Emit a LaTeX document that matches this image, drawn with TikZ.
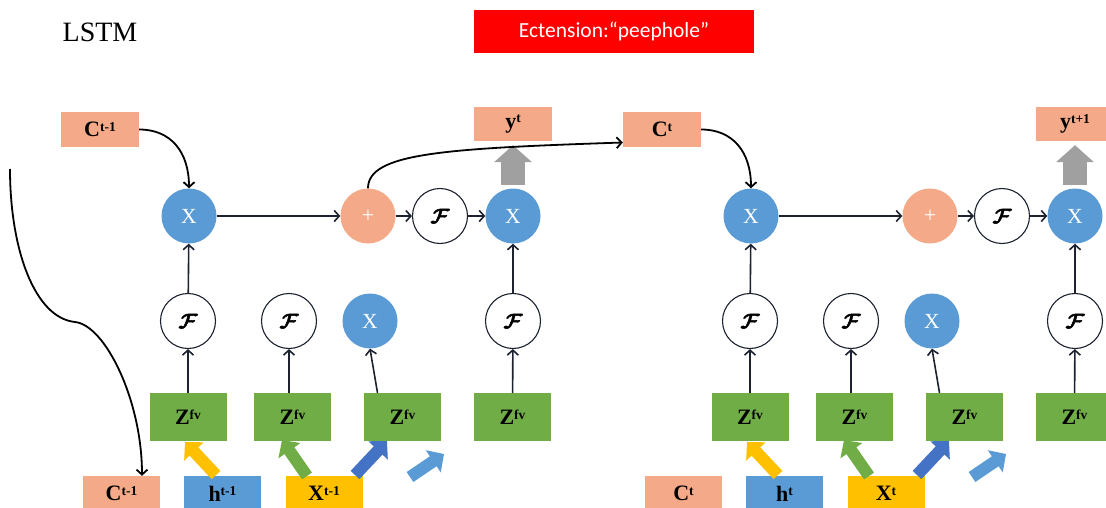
\documentclass[tikz,border=0pt]{standalone}
\usepackage{amsmath}
\usepackage{bm}
\usepackage{fontspec}
\setmainfont{Liberation Serif}
\newfontfamily\calib{Carlito}
\usetikzlibrary{arrows.meta}

\definecolor{salmon}{HTML}{F4AA88}
\definecolor{gateblue}{HTML}{5B9BD5}
\definecolor{zgreen}{HTML}{70AD47}
\definecolor{amber}{HTML}{FFC000}
\definecolor{deepblue}{HTML}{4472C4}
\definecolor{ashgray}{HTML}{A0A0A0}
\definecolor{wirecol}{HTML}{1C2230}

% raised superscript, top aligned with the capital
\newcommand\sups[1]{\raisebox{5.5pt}{\fontsize{13.5}{13.5}\selectfont #1}}
% heavy calligraphic F: bold glyph with a thin outline stroke
\newcommand\funcF{\special{pdf:literal direct 2 Tr 0.5 w}$\bm{\mathcal{F}}$\special{pdf:literal direct 0 Tr}}

\tikzset{
  lab/.style={inner sep=0pt, font=\bfseries\fontsize{22}{22}\selectfont},
  cbox/.style={lab, fill=salmon, minimum width=78pt, minimum height=35pt},
  hbox/.style={lab, fill=gateblue, minimum width=77pt, minimum height=35pt},
  xbox/.style={lab, fill=amber, minimum width=77pt, minimum height=35pt},
  zbox/.style={lab, fill=zgreen, minimum width=77pt, minimum height=48pt},
  mult/.style={circle, fill=gateblue, minimum size=55pt, inner sep=0pt,
               text=white, font=\fontsize{21.5}{22}\selectfont},
  addc/.style={circle, fill=salmon, minimum size=55pt, inner sep=0pt,
               text=white, font=\fontsize{22}{22}\selectfont},
  func/.style={circle, draw=wirecol, line width=1.1pt, fill=white,
               minimum size=55pt, inner sep=0pt, font=\fontsize{22}{22}\selectfont},
  wire/.style={draw=wirecol, line width=1.6pt,
               -{Straight Barb[length=5pt,width=11pt]}},
  curvewire/.style={wire, draw=black, line width=1.8pt},
  fat/.style={line width=12pt, -{Triangle[length=13pt,width=26pt]}},
  grayup/.style={draw=ashgray, line width=24pt,
                 -{Triangle[length=17pt,width=37pt]}, shorten <=3pt, shorten >=4pt},
}

% one unrolled LSTM cell: prefix, x offset, time index, output index
\newcommand\lstmcell[4]{%
\begin{scope}[xshift=#2pt]
  \node[cbox] (#1ctop) at (100,129.5) {C\sups{#3}};
  \node[cbox, minimum height=34pt] (#1y) at (513,124) {y\sups{#4}};
  \node[mult] (#1xc) at (189,216) {X};
  \node[addc] (#1plus) at (368,216) {+};
  \node[func] (#1ft) at (440,216) {\funcF};
  \node[mult] (#1xo) at (513,216) {X};
  \node[func] (#1fa) at (188,321) {\funcF};
  \node[func] (#1fb) at (289,321) {\funcF};
  \node[mult] (#1xi) at (370,321) {X};
  \node[func] (#1fc) at (513,321) {\funcF};
  \node[zbox] (#1za) at (188,417) {Z\sups{fv}};
  \node[zbox] (#1zb) at (292.5,417) {Z\sups{fv}};
  \node[zbox] (#1zc) at (402.5,417) {Z\sups{fv}};
  \node[zbox] (#1zd) at (512.5,417) {Z\sups{fv}};
  \node[cbox, minimum width=77pt] (#1cb) at (121.5,493.5) {C\sups{#3}};
  \node[hbox] (#1h) at (222.5,493.5) {h\sups{#3}};
  \node[xbox] (#1x) at (324,493.5) {X\sups{#3}};
  % cell state path
  \draw[curvewire] (#1ctop.east) .. controls +(32,0) and +(0,-36) .. (#1xc.north);
  \draw[wire] (#1xc) -- (#1plus);
  \draw[wire] (#1plus) -- (#1ft);
  \draw[wire] (#1ft) -- (#1xo);
  % gates
  \draw[wire] (#1fa) -- (#1xc);
  \draw[wire] (#1fc) -- (#1xo);
  \draw[wire] (#1za) -- (#1fa);
  \draw[wire] (#1fb.south |- #1zb.north) -- (#1fb.south);
  \draw[wire] ([xshift=-25pt]#1zc.north) -- (#1xi.south);
  \draw[wire] (#1zd) -- (#1fc);
  % output
  \draw[grayup] (#1xo.north) -- (#1y.south);
  % inputs feeding the gates
  \coordinate (#1ya) at (216,475);  \coordinate (#1yb) at (185,442);
  \coordinate (#1ga) at (307,476);  \coordinate (#1gb) at (282,440);
  \coordinate (#1ba) at (355,475);  \coordinate (#1bb) at (387,441);
  \coordinate (#1la) at (410,477);  \coordinate (#1lb) at (444,454);
  \draw[fat, amber] (#1ya) -- (#1yb);
  \draw[fat, zgreen] (#1ga) -- (#1gb);
  \draw[fat, deepblue] (#1ba) -- (#1bb);
  \draw[fat, gateblue] (#1la) -- (#1lb);
\end{scope}}

\begin{document}
\begin{tikzpicture}[x=1pt,y=-1pt]
  \useasboundingbox (0,0) rectangle (1106,508);
  \fill[white] (0,0) rectangle (1106,508);
  \clip (0,0) rectangle (1106,508);

  \node[anchor=base, inner sep=0pt, font=\fontsize{28}{28}\selectfont] (title) at (100,42) {LSTM};
  \node[fill=red, minimum width=280pt, minimum height=43pt, inner sep=0pt,
        text=white, font=\calib\fontsize{21.5}{22}\selectfont] (ext) at (614,31.5)
        {Ectension:“peephole”};

  \lstmcell{L}{0}{t-1}{t}
  \lstmcell{R}{562}{t}{t+1}

  % cell state carried to the next step
  \draw[curvewire] (Lplus.north) .. controls +(0,-35) and +(-180,6) .. ([yshift=-13pt]Rctop.west);
  % state entering from the previous step
  \coordinate (prev) at (10,169);
  \draw[curvewire] (prev) .. controls (10,250) and (35,318) .. (75,322)
              .. controls (105,325) and (142,400) .. ([xshift=20.5pt]Lcb.north);
\end{tikzpicture}
\end{document}
